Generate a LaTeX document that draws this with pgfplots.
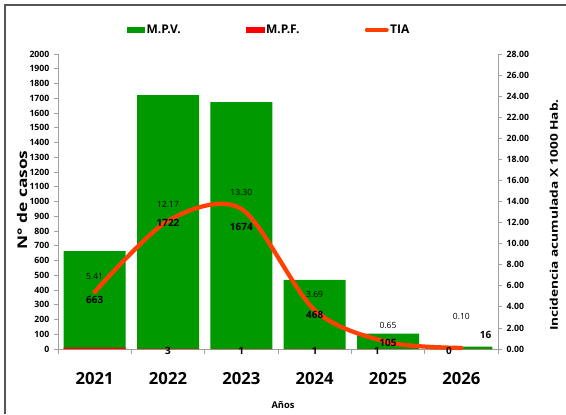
\documentclass[border=0pt]{standalone}
\usepackage{pgfplots}
\pgfplotsset{compat=1.18}
\usepackage{graphicx}
\usepackage{fontspec}
\setmainfont{Open Sans}
\definecolor{mpv}{RGB}{0,153,0}
\definecolor{mpf}{RGB}{255,0,0}
\definecolor{tia}{RGB}{255,64,0}
\definecolor{ejes}{RGB}{160,160,160}
\definecolor{marco}{RGB}{85,85,85}

\begin{document}
\begin{tikzpicture}
\path[use as bounding box] (0pt,0pt) rectangle (424.5pt,310.5pt);
\draw[line width=1.5pt, marco] (3.75pt,0pt) -- (3.75pt,306.75pt) -- (424.5pt,306.75pt);

% barras (eje izquierdo)
\begin{axis}[
  at={(43.5pt,48.75pt)}, anchor=south west,
  width=330pt, height=221.25pt, scale only axis,
  xmin=-0.5, xmax=5.5, ymin=0, ymax=2000,
  axis y line*=left, axis x line*=bottom,
  axis line style={ejes, line width=0.6pt, -},
  tick style={ejes, line width=0.6pt},
  tick align=outside,
  major tick length=3pt, minor tick length=4pt,
  xtick={0,...,5},
  xticklabels={2021,2022,2023,2024,2025,2026},
  major x tick style={draw=none},
  minor xtick={-0.5,0.5,...,5.5},
  ytick={0,100,...,2000},
  scaled y ticks=false,
  /pgf/number format/assume math mode=true,
  /pgf/number format/1000 sep={},
  yticklabel style={font=\bfseries\fontsize{6.5}{7}\selectfont},
  xticklabel style={font=\bfseries\fontsize{12.5}{14}\selectfont, yshift=-11pt},
  clip=false,
  legend columns=3,
  legend style={at={(0.5,1)}, anchor=center, yshift=18pt, xshift=-7pt,
    draw=none, fill=none, font=\bfseries\fontsize{9}{10}\selectfont,
    /tikz/every even column/.append style={column sep=48pt},
    nodes={inner sep=1pt}},
]
\addplot[ybar, bar width=46.5pt, bar shift=0pt, fill=mpv, draw=none,
  legend image code/.code={\fill[mpv] (0pt,-2.3pt) rectangle (14pt,2.3pt);}]
  coordinates {(0,663) (1,1722) (2,1674) (3,468) (4,105) (5,16)};
\addlegendentry{M.P.V.}
\addplot[ybar, bar width=46.5pt, bar shift=0pt, fill=mpf, draw=none,
  legend image code/.code={\fill[mpf] (0pt,-2.3pt) rectangle (14pt,2.3pt);}]
  coordinates {(0,10) (1,3) (2,1) (3,1) (4,1) (5,0)};
\addlegendentry{M.P.F.}
\addlegendimage{legend image code/.code={\draw[tia, line width=3pt, line cap=round] (0pt,0pt) -- (15pt,0pt);}}
\addlegendentry{TIA}
\end{axis}

% TIA (eje derecho)
\begin{axis}[
  at={(43.5pt,48.75pt)}, anchor=south west,
  width=330pt, height=221.25pt, scale only axis,
  xmin=-0.5, xmax=5.5, ymin=0, ymax=28,
  axis y line*=right, axis x line=none,
  axis line style={ejes, line width=0.6pt, -},
  tick style={ejes, line width=0.6pt},
  tick align=outside, major tick length=3pt,
  ytick={0,2,...,28},
  /pgf/number format/assume math mode=true,
  /pgf/number format/.cd, fixed, fixed zerofill, precision=2, /pgfplots/.cd,
  yticklabel style={font=\bfseries\fontsize{6.5}{7}\selectfont},
  clip=false,
]
\addplot[tia, line width=3.2pt, smooth, line cap=round]
  coordinates {(0,5.41) (1,12.17) (2,13.30) (3,3.69) (4,0.65) (5,0.10)};
% etiquetas TIA
\begin{scope}[every node/.style={font=\fontsize{6.4}{7}\selectfont}]
\node at (axis cs:0,6.85) {5.41};
\node at (axis cs:1,13.7) {12.17};
\node at (axis cs:2,14.9) {13.30};
\node at (axis cs:3,5.2) {3.69};
\node at (axis cs:4,2.2) {0.65};
\node at (axis cs:5,3.05) {0.10};
\end{scope}
% etiquetas M.P.V. y M.P.F. (en unidades del eje derecho)
\begin{scope}[every node/.style={font=\bfseries\fontsize{7.5}{8}\selectfont}]
\node at (axis cs:0,4.65) {663};
\node at (axis cs:1,11.96) {1722};
\node at (axis cs:2,11.58) {1674};
\node at (axis cs:3,3.22) {468};
\node at (axis cs:4,0.57) {105};
\node at (axis cs:5.33,1.33) {16};
\node at (axis cs:1,-0.17) {3};
\node at (axis cs:2,-0.17) {1};
\node at (axis cs:3,-0.17) {1};
\node at (axis cs:3.85,-0.17) {1};
\node at (axis cs:4.83,-0.17) {0};
\end{scope}
\end{axis}

\node[rotate=90, font=\bfseries\fontsize{10}{12}\selectfont] at (16.5pt,160.5pt) {\scalebox{1.3}[1]{N° de casos}};
\node[rotate=90, font=\bfseries\fontsize{8}{10}\selectfont] at (415.5pt,149.25pt) {\scalebox{1.28}[1]{Incidencia acumulada X 1000 Hab.}};
\node[font=\bfseries\fontsize{7}{8}\selectfont] at (212.25pt,6.75pt) {Años};
\end{tikzpicture}
\end{document}
